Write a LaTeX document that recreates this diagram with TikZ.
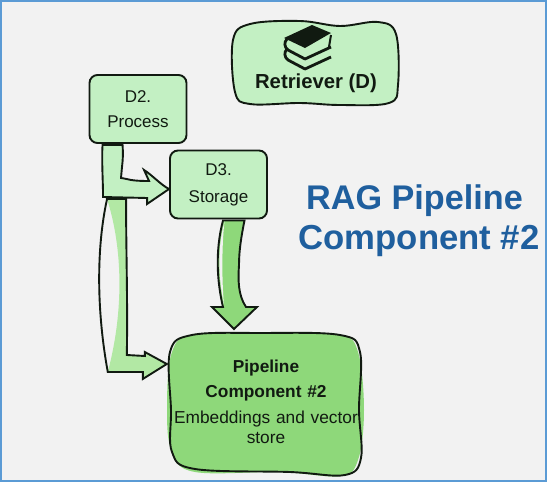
\documentclass[tikz,border=0pt]{standalone}
\usepackage{fontspec}
\setmainfont{Liberation Sans}
\usetikzlibrary{calc}
\definecolor{framecol}{HTML}{5B9BD5}
\definecolor{pagecol}{HTML}{F2F2F2}
\definecolor{palegreen}{HTML}{C3F0C3}
\definecolor{midgreen}{HTML}{8ED87A}
\definecolor{hatchgreen}{HTML}{B2E8A4}
\definecolor{inkcol}{HTML}{111A11}
\definecolor{titlecol}{HTML}{1F5F9E}
\newcommand{\fs}[1]{\fontsize{#1}{#1}\selectfont}
\tikzset{
	stepbox/.style={draw=inkcol, line width=1.9pt, fill=palegreen, rounded corners=8pt, align=center, text=inkcol, minimum width=97pt, minimum height=68pt, inner sep=0pt, font=\fs{17}},
	sketch/.style={draw=inkcol, line width=1.9pt, line join=round},
	flow/.style={draw=inkcol, line width=1.9pt, line join=miter},
	label/.style={text=inkcol, inner sep=0pt, align=center, font=\fs{17}}
}

\begin{document}
\begin{tikzpicture}[x=1pt, y=-1pt]
	%%%%% PAGE %%%%%
	\fill[framecol] (0, 0) rectangle (547, 482);
	\fill[pagecol] (2, 2) rectangle (544.5, 480);
	\useasboundingbox (0, 0) rectangle (547, 482);

	%%%%% BOXES %%%%%
	\node[stepbox] (d2) at (138, 109) {D2.\\[8pt]Process};
	\node[stepbox] (d3) at (218.5, 184.5) {D3.\\[10pt]Storage};

	\draw[sketch, fill=palegreen] plot[smooth cycle, tension=0.6] coordinates {(250, 24) (300, 21) (340, 26) (378, 22) (396, 34) (398, 85) (389, 103) (340, 105) (300, 103) (250, 104) (235, 92) (233, 40)};
	\node[label, font=\fs{20.3}\bfseries] (retriever) at (316, 83) {Retriever (D)};

	% book stack
	\fill[inkcol] (312, 25) -- (331, 33) -- (305, 48) -- (284, 38) -- cycle;
	\foreach \dy in {0, 10}{
		\draw[inkcol, line width=2.8pt, line join=round] (331, {47+\dy}) -- (305, {59+\dy}) -- (288, {50+\dy}) .. controls (284, {47+\dy}) and (284, {42+\dy}) .. (287, {39+\dy});
	}
	\draw[inkcol, line width=2pt] (331, 35) -- (329, 47);

	\fill[midgreen] plot[smooth cycle, tension=0.6] coordinates {(195, 335) (280, 333) (340, 335) (358, 352) (364, 410) (358, 460) (340, 476) (280, 472) (195, 472) (172, 452) (167, 410) (172, 352)};
	\draw[sketch] plot[smooth cycle, tension=0.6] coordinates {(192, 335) (260, 333) (340, 335) (360, 352) (359, 410) (361, 458) (345, 475) (290, 472) (195, 469) (172, 452) (171, 410) (170, 352)};
	\node[label, text width=190pt, font=\fs{17.3}] (pipeline) at (266, 402) {\textbf{Pipeline}\\[7pt]\textbf{Component \#2}\\[9pt]Embeddings and vector\\[3pt]store};

	%%%%% CONNECTORS %%%%%
	\coordinate (d2a) at ($(d2.south west)+(14, 1)$);
	\coordinate (d2b) at ($(d2.south west)+(34, 1)$);
	\coordinate (d3tip) at ($(d3.west)+(0, 4.5)$);
	\draw[flow, fill=palegreen] (d2a) .. controls +(-1, 15) and +(0, -15) .. ($(d3tip)+(-66, 8)$) -- ($(d3tip)+(-22, 9)$) -- ($(d3tip)+(-22, 15)$) -- (d3tip) .. controls +(-8, -4) and +(8, 5) .. ($(d3tip)+(-25, -19)$) -- ($(d3tip)+(-20, -8)$) .. controls +(-20, 0) and +(8, 1) .. ($(d3tip)+(-48, -11)$) .. controls +(1, -15) and +(1, 15) .. (d2b) -- cycle;

	\coordinate (pipetip) at ($(pipeline.west)+(-4, -38)$);
	\coordinate (d2c) at ($(d3tip)+(-62, 10)$);
	\coordinate (d2d) at ($(d3tip)+(-43, 10)$);
	\fill[hatchgreen] (d2c) .. controls +(16, 50) and +(16, -60) .. ($(pipetip)+(-59, 8)$) -- ($(pipetip)+(-24, 8)$) -- ($(pipetip)+(-24, 15)$) -- (pipetip) -- ($(pipetip)+(-22, -12)$) -- ($(pipetip)+(-22, -8)$) -- ($(pipetip)+(-40, -9)$) -- (d2d) -- cycle;
	\draw[flow] (d2c) .. controls +(-11, 50) and +(-11, -60) .. ($(pipetip)+(-59, 8)$) -- ($(pipetip)+(-24, 8)$) -- ($(pipetip)+(-24, 15)$) -- (pipetip) -- ($(pipetip)+(-22, -12)$) -- ($(pipetip)+(-22, -8)$) -- ($(pipetip)+(-40, -9)$) .. controls +(1, -50) and +(0, 50) .. (d2d) -- cycle;

	\coordinate (d3a) at ($(d3.south)+(4.5, 1)$);
	\coordinate (d3b) at ($(d3.south)+(26, 1)$);
	\coordinate (pipein) at ($(pipeline.north)+(-32, -31)$);
	\draw[flow, fill=midgreen] (d3a) .. controls +(-8, 30) and +(-6, -25) .. ($(pipein)+(-11, -22)$) -- ($(pipein)+(-22, -22)$) -- (pipein) -- ($(pipein)+(23, -22)$) -- ($(pipein)+(12, -22)$) .. controls +(-8, -12) and +(-1, 15) .. ($(pipein)+(5, -64)$) .. controls +(0, -15) and +(-3, 15) .. (d3b) -- cycle;
	\fill[pagecol] ($(d3a)+(1.5, 1)$) .. controls +(-8, 30) and +(-5, -25) .. ($(pipein)+(-10, -24)$) .. controls +(-2, -20) and +(-3, 25) .. cycle;

	%%%%% TITLE %%%%%
	\node[inner sep=0pt, text=titlecol, font=\fs{34.2}\bfseries] (titleA) at (414.5, 201) {RAG Pipeline};
	\node[inner sep=0pt, text=titlecol, font=\fs{34.7}\bfseries] (titleB) at (419, 241) {Component \#2};
\end{tikzpicture}
\end{document}
